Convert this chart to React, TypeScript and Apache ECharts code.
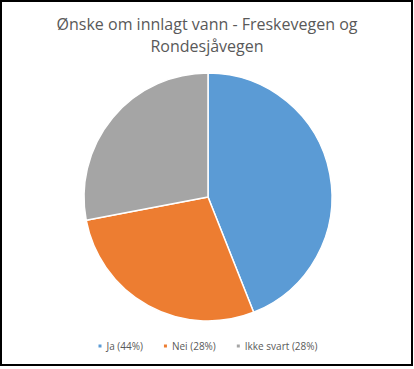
import React, { useEffect, useRef } from "react";
import * as echarts from "echarts";

const titleLines = ["Ønske om innlagt vann - Freskevegen og", "Rondesjåvegen"];
const categories = ["Ja", "Nei", "Ikke svart"];
const values = [11, 7, 7];
const colors = ["#5B9BD5", "#ED7D31", "#A5A5A5"];

export default function App() {
  const ref = useRef<HTMLDivElement>(null);
  useEffect(() => {
    document.body.style.margin = "0";
    const chart = echarts.init(ref.current!, null, { renderer: "svg" });
    const total = values.reduce((a, b) => a + b, 0);
    const pct: Record<string, string> = {};
    categories.forEach((c, i) => {
      pct[c] = Math.round((values[i] / total) * 100) + "%";
    });
    chart.setOption({
      animation: false,
      backgroundColor: "#ffffff",
      color: colors,
      title: {
        text: titleLines.join("\n"),
        left: "center",
        top: 8,
        textStyle: {
          fontFamily: "Open Sans",
          fontSize: 16,
          fontWeight: "normal",
          color: "#595959",
          lineHeight: 22,
        },
      },
      legend: {
        bottom: 13,
        left: "center",
        icon: "rect",
        itemWidth: 5,
        itemHeight: 5,
        itemGap: 19,
        data: categories,
        formatter: (name: string) => `${name} (${pct[name]})`,
        textStyle: { fontFamily: "Open Sans", fontSize: 10, color: "#595959", padding: [0, 0, 0, -1] },
      },
      graphic: [
        {
          type: "rect",
          shape: { x: 1, y: 1, width: 411, height: 364 },
          style: { fill: "none", stroke: "#000000", lineWidth: 2 },
          silent: true,
        },
      ],
      series: [
        {
          type: "pie",
          center: [208, 197],
          radius: 124,
          startAngle: 90,
          clockwise: true,
          label: { show: false },
          labelLine: { show: false },
          itemStyle: { borderColor: "#ffffff", borderWidth: 1.5 },
          emphasis: { disabled: true },
          data: categories.map((c, i) => ({ name: c, value: values[i] })),
        },
      ],
    });
    return () => chart.dispose();
  }, []);
  return <div ref={ref} style={{ width: 414, height: 369 }} />;
}
